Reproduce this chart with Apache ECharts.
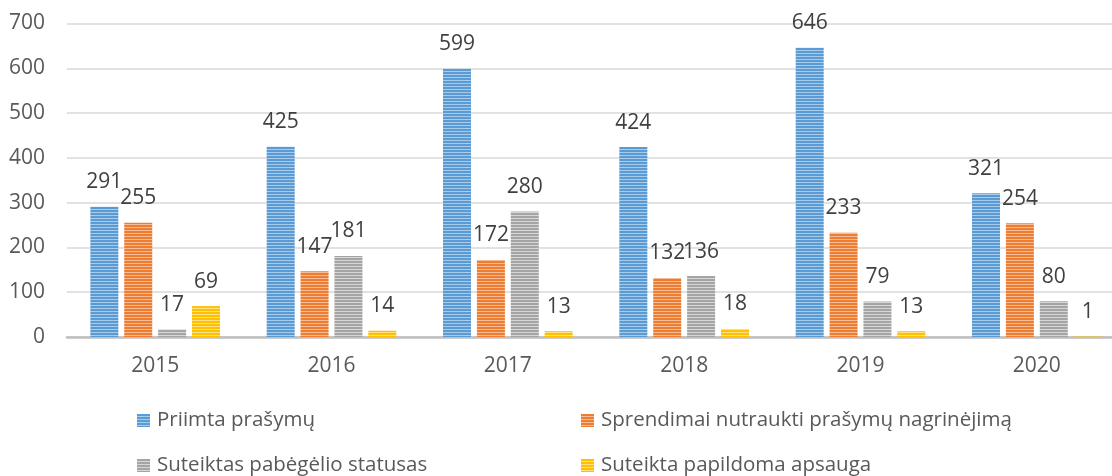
<!DOCTYPE html>
<html><head><meta charset="utf-8">
<script src="https://cdn.jsdelivr.net/npm/echarts@6/dist/echarts.min.js"></script>
<style>html,body{margin:0;padding:0;background:#fff;overflow:hidden}#c{width:1126px;height:476px}</style>
</head><body><div id="c"></div>
<script>
const categories = ['2015','2016','2017','2018','2019','2020'];
const seriesNames = ['Priimta prašymų','Sprendimai nutraukti prašymų nagrinėjimą','Suteiktas pabėgėlio statusas','Suteikta papildoma apsauga'];
const priimta = [291,425,599,424,646,321];
const nutraukti = [255,147,172,132,233,254];
const statusas = [17,181,280,136,79,80];
const apsauga = [69,14,13,18,13,1];
const yTicks = [0,100,200,300,400,500,600,700];

const baseColors = ['#5B9BD5','#ED7D31','#A5A5A5','#FFC000'];
const lightColors = ['#A9CBEA','#F6BC97','#D6D6D6','#FFE08A'];
function stripe(base, light){
  const c = document.createElement('canvas'); c.width = 4; c.height = 3;
  const g = c.getContext('2d');
  g.fillStyle = base; g.fillRect(0,0,4,3);
  g.fillStyle = light; g.fillRect(0,2,4,1);
  return {image: c, repeat: 'repeat'};
}
const FONT = 'Open Sans';
const values = [priimta, nutraukti, statusas, apsauga];
const series = values.map((v,i)=>({
  name: seriesNames[i], type:'bar', data: v, barWidth: 28, barGap: '21%',
  itemStyle: {color: stripe(baseColors[i], lightColors[i])},
  label: {show:true, position:'top', distance: 14, fontFamily: FONT, fontSize: 21, color:'#404040'}
}));
const legendPos = [[137,410],[581,410],[137,455],[581,455]];
const legends = seriesNames.map((n,i)=>({
  data:[{name:n, itemStyle:{color: stripe(baseColors[i], lightColors[i])}}], left: legendPos[i][0], top: legendPos[i][1],
  padding: 0, itemWidth: 13, itemHeight: 13, itemGap: 0, icon:'rect',
  textStyle:{fontFamily: FONT, fontSize: 20.5, color:'#595959', padding:[0,0,0,2]}
}));
const chart = echarts.init(document.getElementById('c'), null, {renderer:'canvas'});
chart.setOption({
  animation:false,
  grid:{left:67, top:23.5, width:1058, bottom:139},
  legend: legends,
  xAxis:{type:'category', data: categories,
    axisLine:{lineStyle:{color:'#BFBFBF', width:2.5}}, axisTick:{show:false},
    axisLabel:{fontFamily: FONT, fontSize:21, color:'#595959', margin:19}},
  yAxis:{type:'value', min: yTicks[0], max: yTicks[yTicks.length-1], interval:100,
    axisLine:{show:false}, axisTick:{show:false},
    splitLine:{lineStyle:{color:'#D9D9D9', width:1.5}},
    axisLabel:{fontFamily: FONT, fontSize:21, color:'#595959', margin:22}},
  series
});
</script></body></html>
